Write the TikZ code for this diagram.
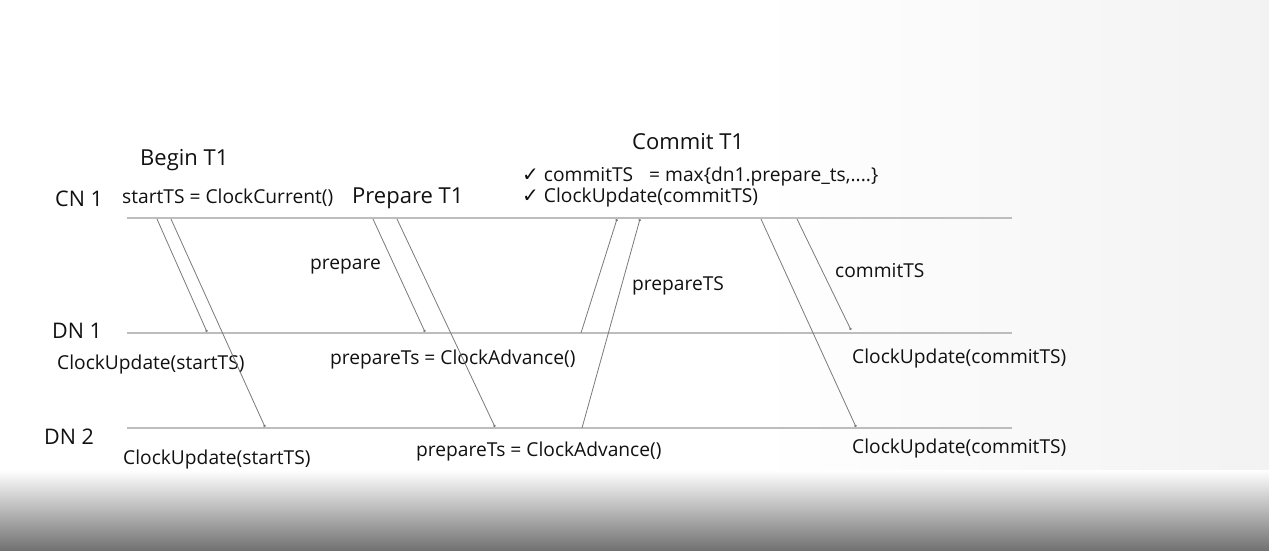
\documentclass[tikz,border=0pt]{standalone}
\usepackage{fontspec}
\setmainfont{Open Sans}
\newfontfamily\symfont{DejaVu Sans}
\usepackage{tikz}
\usetikzlibrary{arrows.meta}
\definecolor{ink}{HTML}{111111}
\definecolor{wire}{HTML}{7A7A7A}
\definecolor{lanegray}{HTML}{BDBDBD}
\definecolor{shadowgray}{HTML}{727272}
\tikzset{
  lane/.style  = {draw=lanegray, line width=1.4pt},
  msg/.style   = {draw=wire, line width=0.8pt, -{Circle[length=2.4pt]}},
  lbl/.style   = {anchor=base west, inner sep=0pt, text=ink, font=\fontsize{19.2}{21}\selectfont},
  head/.style  = {lbl, font=\fontsize{22}{24}\selectfont},
  party/.style = {lbl, font=\fontsize{21.5}{24}\selectfont},
}
\newcommand{\tick}{{\symfont\fontsize{20}{22}\selectfont\char"2713}\hspace{5pt}}

\begin{document}
\begin{tikzpicture}[x=1pt, y=-1pt]
  % background
  \fill[white] (0,0) rectangle (1269,550);
  \shade[left color=white, right color=black!5] (760,0) rectangle (1269,472);
  \shade[top color=white, bottom color=shadowgray] (0,470) rectangle (1269,550);
  \useasboundingbox (0,0) rectangle (1269,550);

  % lanes
  \coordinate (cnL) at (127,218); \coordinate (cnR) at (1012,218);
  \coordinate (d1L) at (127,333); \coordinate (d1R) at (1012,333);
  \coordinate (d2L) at (127,428); \coordinate (d2R) at (1012,428);
  \draw[lane] (cnL) -- (cnR);
  \draw[lane] (d1L) -- (d1R);
  \draw[lane] (d2L) -- (d2R);

  \node[party] (cn)  at (55,206) {CN 1};
  \node[party] (dn1) at (52,338) {DN 1};
  \node[party] (dn2) at (44,444) {DN 2};

  % headings
  \node[head] (begin)   at (140,165) {Begin T1};
  \node[head] (prep)    at (352,203) {Prepare T1};
  \node[head] (commit)  at (632,149) {Commit T1};
  \node[lbl]  (start)   at (122,203) {startTS = ClockCurrent()};
  \node[lbl]  (cmax)    at (522,181) {\tick commitTS\hspace{16pt}= max\{dn1.prepare\_ts,....\}};
  \node[lbl]  (cupd)    at (522,202) {\tick ClockUpdate(commitTS)};

  % message labels
  \node[lbl] (lprep)  at (310,269) {prepare};
  \node[lbl] (lpts)   at (632,290) {prepareTS};
  \node[lbl] (lcts)   at (835,277) {commitTS};

  % DN labels
  \node[lbl] (u1s) at (57,369)  {ClockUpdate(startTS)};
  \node[lbl] (a1)  at (330,364) {prepareTs = ClockAdvance()};
  \node[lbl] (u1c) at (852,363) {ClockUpdate(commitTS)};
  \node[lbl] (u2s) at (123,464) {ClockUpdate(startTS)};
  \node[lbl] (a2)  at (416,456) {prepareTs = ClockAdvance()};
  \node[lbl] (u2c) at (852,453) {ClockUpdate(commitTS)};

  % message end points
  \coordinate (s1a) at (157,219); \coordinate (s1b) at (207,332);
  \coordinate (s2a) at (171,219); \coordinate (s2b) at (265,427);
  \coordinate (p1a) at (373,219); \coordinate (p1b) at (425,332);
  \coordinate (p2a) at (397,219); \coordinate (p2b) at (495,427);
  \coordinate (r1a) at (581,333); \coordinate (r1b) at (617,219);
  \coordinate (r2a) at (582,428); \coordinate (r2b) at (640,219);
  \coordinate (c1a) at (797,219); \coordinate (c1b) at (851,330);
  \coordinate (c2a) at (761,219); \coordinate (c2b) at (856,427);

  \draw[msg] (s1a) -- (s1b);
  \draw[msg] (s2a) -- (s2b);
  \draw[msg] (p1a) -- (p1b);
  \draw[msg] (p2a) -- (p2b);
  \draw[msg] (r1a) -- (r1b);
  \draw[msg] (r2a) -- (r2b);
  \draw[msg] (c1a) -- (c1b);
  \draw[msg] (c2a) -- (c2b);
\end{tikzpicture}
\end{document}
